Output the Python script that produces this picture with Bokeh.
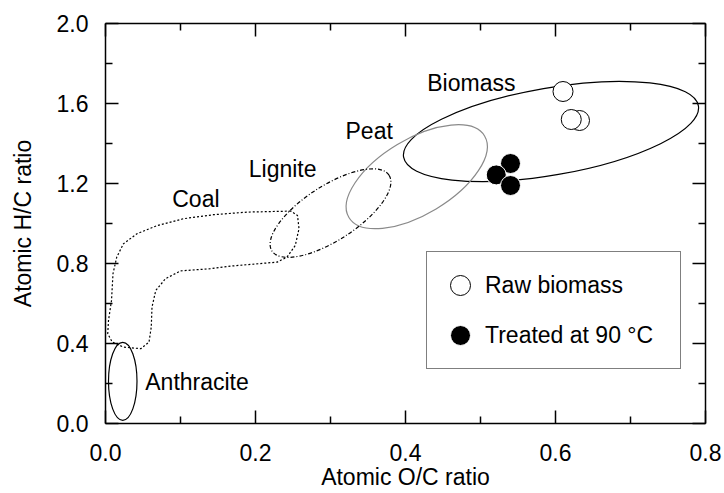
import math
from bokeh.plotting import figure
from bokeh.models import Range1d, LinearAxis, FixedTicker, Legend, LegendItem
from bokeh.core.properties import value
from bokeh.embed import file_html
from bokeh.resources import INLINE

# ---------------- data ----------------
x_ticks = [0.0, 0.2, 0.4, 0.6, 0.8]
x_tick_labels = ["0.0", "0.2", "0.4", "0.6", "0.8"]
x_minor = [0.1, 0.3, 0.5, 0.7]
y_ticks = [0.0, 0.4, 0.8, 1.2, 1.6, 2.0]
y_tick_labels = ["0.0", "0.4", "0.8", "1.2", "1.6", "2.0"]
y_minor = [0.2, 0.6, 1.0, 1.4, 1.8]

raw_oc = [0.610, 0.632, 0.621]
raw_hc = [1.660, 1.515, 1.520]
treated_oc = [0.540, 0.521, 0.540]
treated_hc = [1.300, 1.243, 1.190]

region_names = ["Biomass", "Peat", "Lignite", "Anthracite"]
region_oc = [0.594, 0.415, 0.300, 0.023]
region_hc = [1.460, 1.234, 1.052, 0.211]
region_oc_span = [0.399, 0.211, 0.186, 0.038]
region_hc_span = [0.436, 0.376, 0.273, 0.390]
region_tilt_deg = [9.9, 31.0, 32.9, 0.0]

coal_oc = [0.247, 0.189, 0.144, 0.104, 0.069, 0.042, 0.024, 0.015, 0.010,
           0.008, 0.004, 0.003, 0.009, 0.024, 0.047, 0.058, 0.061, 0.062,
           0.067, 0.080, 0.100, 0.140, 0.167, 0.229, 0.242, 0.253, 0.258, 0.256]
coal_hc = [1.062, 1.057, 1.044, 1.024, 0.990, 0.949, 0.899, 0.832, 0.749,
           0.615, 0.515, 0.449, 0.407, 0.382, 0.374, 0.407, 0.482, 0.582,
           0.665, 0.724, 0.763, 0.774, 0.787, 0.807, 0.832, 0.890, 0.974, 1.040]

label_names = ["Biomass", "Peat", "Lignite", "Coal", "Anthracite"]
label_oc = [0.429, 0.320, 0.191, 0.089, 0.053]
label_hc = [1.705, 1.462, 1.274, 1.125, 0.209]

# ---------------- styles ----------------
FONT = "Liberation Sans"
FS = "23px"
region_colors = ["black", "#8a8a8a", "black", "black"]
region_dashes = ["solid", "solid", "4 2 1 2", "solid"]

p = figure(width=724, height=493,
           x_range=Range1d(0, 0.8), y_range=Range1d(0, 2.0),
           output_backend="svg", toolbar_location=None,
           min_border_left=105, min_border_right=19,
           min_border_top=23, min_border_bottom=70)
p.xgrid.visible = False
p.ygrid.visible = False
p.outline_line_color = None
p.background_fill_color = "white"
p.border_fill_color = "white"

xt = FixedTicker(ticks=x_ticks, minor_ticks=x_minor)
yt = FixedTicker(ticks=y_ticks, minor_ticks=y_minor)


def style_axis(ax):
    ax.axis_line_color = "black"
    ax.axis_line_width = 1.5
    ax.major_tick_line_color = "black"
    ax.major_tick_line_width = 1.5
    ax.minor_tick_line_color = "black"
    ax.minor_tick_line_width = 1.5
    ax.major_tick_in = 13
    ax.major_tick_out = 0
    ax.minor_tick_in = 7
    ax.minor_tick_out = 0
    ax.major_label_text_font = FONT
    ax.major_label_text_color = "black"
    ax.axis_label_text_font = FONT
    ax.axis_label_text_font_style = "normal"
    ax.axis_label_text_color = "black"


xa = p.xaxis[0]
xa.ticker = xt
xa.major_label_overrides = dict(zip(x_ticks, x_tick_labels))
style_axis(xa)
xa.major_label_text_font_size = FS
xa.major_label_standoff = 20
xa.axis_label = "Atomic O/C ratio"
xa.axis_label_text_font_size = FS
xa.axis_label_standoff = 0

ya = p.yaxis[0]
ya.ticker = yt
ya.major_label_overrides = dict(zip(y_ticks, y_tick_labels))
style_axis(ya)
ya.major_label_text_font_size = FS
ya.major_label_standoff = 17
ya.axis_label = "Atomic H/C ratio"
ya.axis_label_text_font_size = FS
ya.axis_label_standoff = 18

top = LinearAxis(ticker=xt)
style_axis(top)
top.major_label_text_font_size = "1px"
top.major_label_text_color = None
top.major_label_standoff = 0
p.add_layout(top, "above")

right = LinearAxis(ticker=yt)
style_axis(right)
right.major_label_text_font_size = "1px"
right.major_label_text_color = None
right.major_label_standoff = 0
p.add_layout(right, "right")

# regions
for i in range(len(region_names)):
    p.ellipse(x=[region_oc[i]], y=[region_hc[i]],
              width=[region_oc_span[i]], height=[region_hc_span[i]],
              angle=[math.radians(region_tilt_deg[i])],
              fill_color=None, line_color=region_colors[i],
              line_width=1.2, line_dash=region_dashes[i])

p.patch(coal_oc, coal_hc, fill_color=None, fill_alpha=0,
        line_color="black", line_width=1.2, line_dash="2 2")

p.text(x=label_oc, y=label_hc, text=label_names,
       text_font=value(FONT), text_font_size=FS,
       text_align="left", text_baseline="middle", text_color="black")

r_raw = p.scatter(raw_oc, raw_hc, marker="circle", size=20,
                  fill_color="white", line_color="black", line_width=1)
r_treated = p.scatter(treated_oc, treated_hc, marker="circle", size=20,
                      fill_color="black", line_color="white", line_width=1)

legend = Legend(items=[LegendItem(label="Raw biomass", renderers=[r_raw]),
                       LegendItem(label="Treated at 90 °C", renderers=[r_treated])],
                location=(321, 54), glyph_width=50, glyph_height=50,
                padding=8, spacing=0, label_standoff=0, label_width=187,
                label_text_font=FONT, label_text_font_size=FS,
                label_text_color="black",
                border_line_color="black", border_line_width=1.2,
                background_fill_color="white", background_fill_alpha=1.0,
                margin=0)
p.add_layout(legend)

open("out.html", "w").write(file_html(p, INLINE))
